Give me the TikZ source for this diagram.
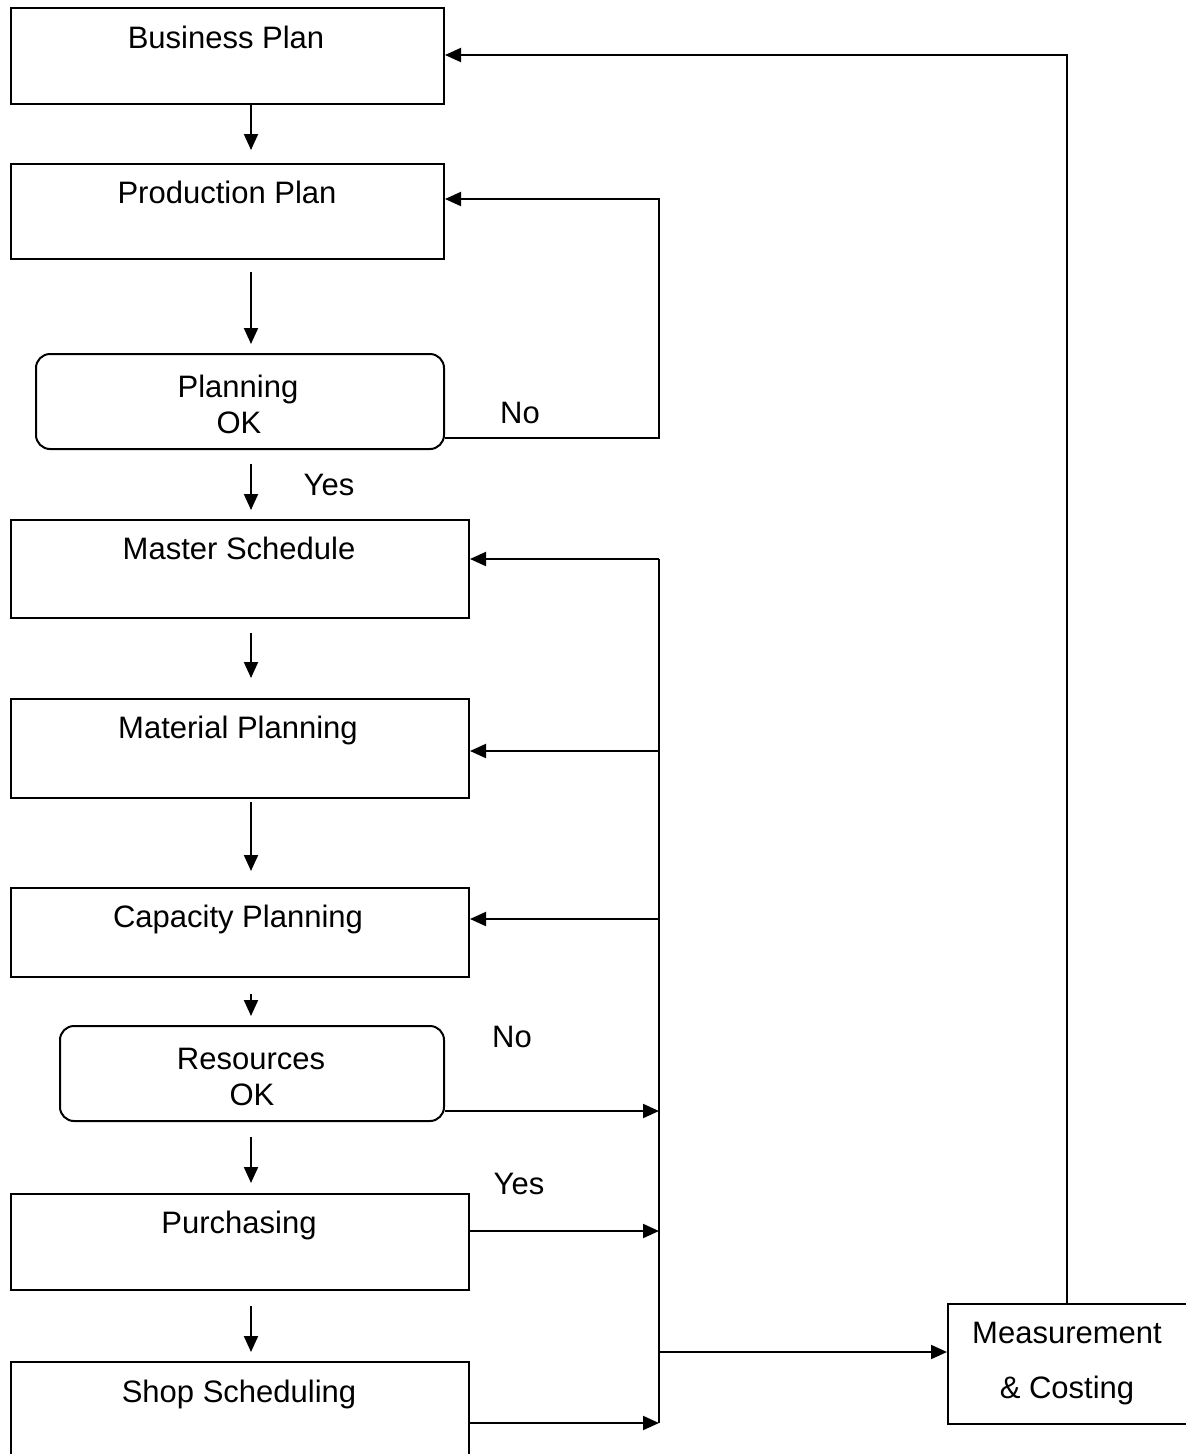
\documentclass[tikz,border=0pt]{standalone}
\usepackage{fontspec}
\setmainfont{Liberation Sans}
\usetikzlibrary{arrows.meta}
\begin{document}
\begin{tikzpicture}[x=1pt,y=-1pt,
  every node/.style={font=\fontsize{31}{37}\selectfont},
  box/.style={draw, line width=2pt, inner sep=0pt, anchor=north west},
  okbox/.style={box, rounded corners=14pt},
  txt/.style={anchor=base, inner sep=0pt},
  arr/.style={line width=2pt, -{Triangle[length=16pt,width=14pt]}},
  wire/.style={line width=2pt}]
\useasboundingbox (0,0) rectangle (1186,1454);
\clip (0,0) rectangle (1186,1454);

% process boxes
\node[box, minimum width=433pt, minimum height=96pt] (bp) at (10,7) {};
\node[box, minimum width=433pt, minimum height=95pt] (pp) at (10,163) {};
\node[okbox, minimum width=408pt, minimum height=95pt] (pok) at (35,353) {};
\node[box, minimum width=458pt, minimum height=98pt] (ms) at (10,519) {};
\node[box, minimum width=458pt, minimum height=99pt] (mp) at (10,698) {};
\node[box, minimum width=458pt, minimum height=89pt] (cp) at (10,887) {};
\node[okbox, minimum width=384pt, minimum height=95pt] (rok) at (59,1025) {};
\node[box, minimum width=458pt, minimum height=96pt] (pu) at (10,1193) {};
\node[box, minimum width=458pt, minimum height=130pt] (ss) at (10,1361) {};
\node[box, minimum width=300pt, minimum height=120pt] (mc) at (947,1303) {};

% box texts
\node[txt] (tbp) at (226,48) {Business Plan};
\node[txt] (tpp) at (227,203) {Production Plan};
\node[txt] (tpok1) at (238,397) {Planning};
\node[txt] (tpok2) at (239,433) {OK};
\node[txt] (tms) at (239,559) {Master Schedule};
\node[txt] (tmp) at (238,738) {Material Planning};
\node[txt] (tcp) at (238,927) {Capacity Planning};
\node[txt] (trok1) at (251,1069) {Resources};
\node[txt] (trok2) at (252,1105) {OK};
\node[txt] (tpu) at (239,1233) {Purchasing};
\node[txt] (tss) at (239,1402) {Shop Scheduling};
\node[txt] (tmc1) at (1067,1343) {Measurement};
\node[txt] (tmc2) at (1067,1398) {\& Costing};

% decision labels
\node[txt] (no1) at (520,423) {No};
\node[txt] (yes1) at (329,495) {Yes};
\node[txt] (no2) at (512,1047) {No};
\node[txt] (yes2) at (519,1194) {Yes};

% main downward flow
\coordinate (spine) at (251,0);
\draw[arr, shorten >=13pt] (bp.south -| spine) -- (pp.north -| spine);
\draw[arr, shorten <=12pt, shorten >=9pt] (pp.south -| spine) -- (pok.north -| spine);
\draw[arr, shorten <=14pt, shorten >=9pt] (pok.south -| spine) -- (ms.north -| spine);
\draw[arr, shorten <=14pt, shorten >=20pt] (ms.south -| spine) -- (mp.north -| spine);
\draw[arr, shorten <=3pt, shorten >=16pt] (mp.south -| spine) -- (cp.north -| spine);
\draw[arr, shorten <=16pt, shorten >=9pt] (cp.south -| spine) -- (rok.north -| spine);
\draw[arr, shorten <=15pt, shorten >=10pt] (rok.south -| spine) -- (pu.north -| spine);
\draw[arr, shorten <=15pt, shorten >=9pt] (pu.south -| spine) -- (ss.north -| spine);

% planning loop back to production plan
\coordinate (c1) at (659,438);
\coordinate (c2) at (659,199);
\draw[arr] (pok.east |- c1) -- (c1) -- (c2) -- (pp.east |- c2);

% feedback bus
\coordinate (b1) at (659,559);
\coordinate (b2) at (659,751);
\coordinate (b3) at (659,919);
\coordinate (b4) at (659,1111);
\coordinate (b5) at (659,1231);
\coordinate (b6) at (659,1352);
\coordinate (b7) at (659,1423);
\draw[wire] (b1) -- (b7);
\draw[arr] (b1) -- (ms.east |- b1);
\draw[arr] (b2) -- (mp.east |- b2);
\draw[arr] (b3) -- (cp.east |- b3);
\draw[arr] (rok.east |- b4) -- (b4);
\draw[arr] (pu.east |- b5) -- (b5);
\draw[arr] (ss.east |- b7) -- (b7);
\draw[arr] (b6) -- (mc.west |- b6);

% measurement back to business plan
\coordinate (c3) at (1067,55);
\draw[arr] (mc.north -| c3) -- (c3) -- (bp.east |- c3);
\end{tikzpicture}
\end{document}
